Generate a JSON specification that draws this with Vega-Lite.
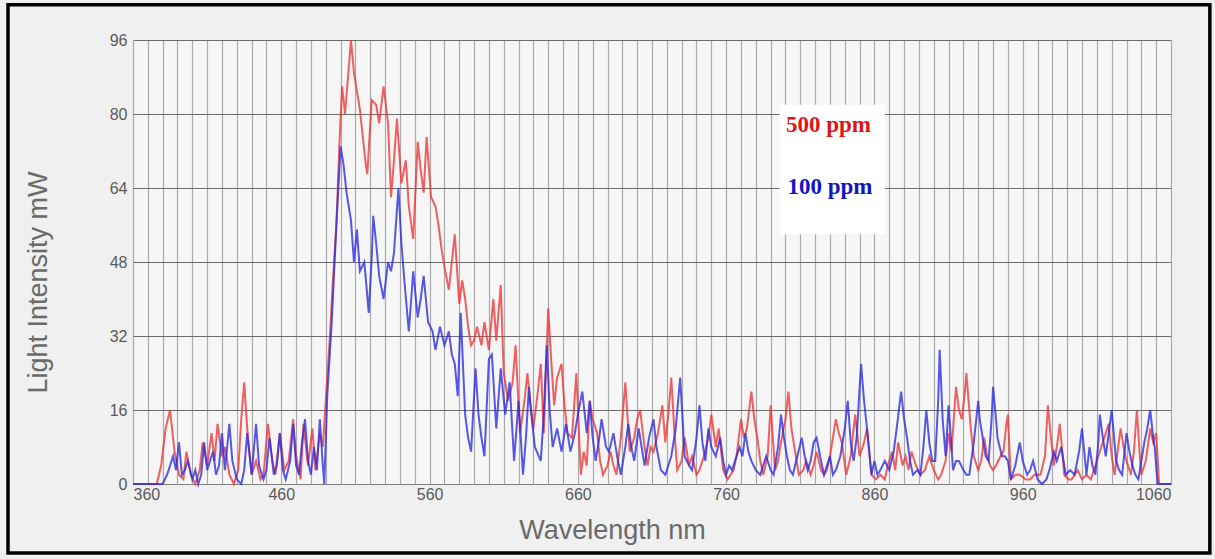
{
  "$schema": "https://vega.github.io/schema/vega-lite/v6.json",
  "width": 1038,
  "height": 444,
  "autosize": {"type": "none"},
  "padding": {"left": 133, "top": 40, "right": 44, "bottom": 75},
  "background": "#f0f0f0",
  "config": {
    "view": {"fill": "#f6f6f6", "stroke": null},
    "axis": {"labelFont": "Liberation Sans", "titleFont": "Liberation Sans", "labelColor": "#5a5a5a", "titleColor": "#6a6a6a", "labelFontSize": 16, "titleFontSize": 27, "titleFontWeight": "normal", "ticks": false}
  },
  "datasets": {
    "red": [
      {"wl":360,"val":0},{"wl":376,"val":0},{"wl":379,"val":4},{"wl":382,"val":12},{"wl":385,"val":16},{"wl":388,"val":7},{"wl":391,"val":2},{"wl":394,"val":1},{"wl":396,"val":7},{"wl":399,"val":2},{"wl":402,"val":0},{"wl":405,"val":3},{"wl":407,"val":9},{"wl":410,"val":4},{"wl":413,"val":11},{"wl":415,"val":5},{"wl":417,"val":13},{"wl":420,"val":6},{"wl":422,"val":8},{"wl":425,"val":2},{"wl":428,"val":0},{"wl":431,"val":3},{"wl":433,"val":14},{"wl":435,"val":22},{"wl":437,"val":12},{"wl":440,"val":2},{"wl":443,"val":5},{"wl":446,"val":1},{"wl":448,"val":2},{"wl":451,"val":13},{"wl":454,"val":5},{"wl":456,"val":2},{"wl":459,"val":11},{"wl":462,"val":3},{"wl":465,"val":5},{"wl":468,"val":14},{"wl":470,"val":6},{"wl":473,"val":1},{"wl":475,"val":13},{"wl":478,"val":4},{"wl":481,"val":12},{"wl":483,"val":3},{"wl":486,"val":11},{"wl":488,"val":8},
      {"wl":490,"val":18},{"wl":493,"val":33},{"wl":495,"val":45},{"wl":497,"val":55},{"wl":499,"val":72},{"wl":501,"val":86},{"wl":503,"val":80},{"wl":505,"val":88},{"wl":507,"val":96},{"wl":509,"val":89},{"wl":511,"val":85},{"wl":513,"val":81},{"wl":515,"val":75},{"wl":517,"val":69},{"wl":518,"val":67},{"wl":521,"val":83},{"wl":524,"val":82},{"wl":526,"val":78},{"wl":529,"val":86},{"wl":532,"val":78},{"wl":534,"val":62},{"wl":536,"val":70},{"wl":538,"val":79},{"wl":541,"val":65},{"wl":544,"val":70},{"wl":546,"val":60},{"wl":549,"val":53},{"wl":552,"val":74},{"wl":554,"val":68},{"wl":556,"val":63},{"wl":558,"val":75},{"wl":561,"val":62},{"wl":564,"val":60},{"wl":566,"val":56},{"wl":568,"val":51},{"wl":570,"val":47},{"wl":573,"val":42},{"wl":575,"val":48},{"wl":577,"val":54},{"wl":580,"val":39},{"wl":582,"val":44},{"wl":584,"val":40},{"wl":586,"val":34},{"wl":588,"val":30},{"wl":590,"val":31},{"wl":592,"val":34},{"wl":595,"val":30},{"wl":597,"val":35},{"wl":600,"val":29},{"wl":603,"val":40},{"wl":605,"val":31},{"wl":608,"val":43},{"wl":610,"val":24},{"wl":613,"val":18},{"wl":616,"val":22},{"wl":618,"val":30},{"wl":621,"val":11},{"wl":624,"val":18},{"wl":626,"val":24},{"wl":628,"val":17},{"wl":630,"val":12},{"wl":633,"val":20},{"wl":635,"val":26},{"wl":637,"val":11},{"wl":640,"val":38},{"wl":642,"val":27},{"wl":644,"val":17},{"wl":646,"val":23},{"wl":649,"val":26},{"wl":651,"val":17},{"wl":653,"val":11},{"wl":656,"val":10},{"wl":659,"val":24},{"wl":662,"val":2},{"wl":664,"val":7},{"wl":666,"val":4},{"wl":668,"val":18},{"wl":670,"val":14},{"wl":673,"val":11},{"wl":675,"val":5},{"wl":677,"val":2},{"wl":680,"val":4},{"wl":682,"val":7},{"wl":684,"val":4},{"wl":686,"val":2},{"wl":689,"val":10},{"wl":692,"val":22},{"wl":695,"val":7},{"wl":698,"val":10},{"wl":700,"val":14},{"wl":702,"val":16},{"wl":705,"val":8},{"wl":707,"val":4},{"wl":709,"val":8},{"wl":711,"val":7},{"wl":714,"val":11},{"wl":717,"val":17},{"wl":719,"val":9},{"wl":721,"val":15},{"wl":723,"val":23},{"wl":725,"val":12},{"wl":727,"val":3},{"wl":730,"val":5},{"wl":732,"val":10},{"wl":735,"val":4},{"wl":737,"val":6},{"wl":740,"val":2},{"wl":742,"val":3},{"wl":745,"val":6},{"wl":748,"val":10},{"wl":750,"val":15},{"wl":753,"val":8},{"wl":755,"val":12},{"wl":758,"val":3},{"wl":761,"val":1},{"wl":763,"val":2},{"wl":765,"val":3},{"wl":767,"val":6},{"wl":770,"val":14},{"wl":772,"val":10},{"wl":774,"val":12},{"wl":777,"val":20},{"wl":779,"val":14},{"wl":781,"val":10},{"wl":783,"val":5},{"wl":785,"val":2},{"wl":788,"val":6},{"wl":790,"val":17},{"wl":793,"val":3},{"wl":795,"val":5},{"wl":797,"val":9},{"wl":800,"val":14},{"wl":802,"val":20},{"wl":804,"val":12},{"wl":807,"val":6},{"wl":809,"val":2},{"wl":812,"val":3},{"wl":814,"val":5},{"wl":817,"val":2},{"wl":819,"val":4},{"wl":821,"val":7},{"wl":824,"val":3},{"wl":826,"val":2},{"wl":828,"val":3},{"wl":830,"val":6},{"wl":832,"val":10},{"wl":834,"val":14},{"wl":836,"val":11},{"wl":838,"val":9},{"wl":841,"val":2},{"wl":844,"val":6},{"wl":847,"val":15},{"wl":850,"val":6},{"wl":853,"val":9},{"wl":855,"val":12},{"wl":858,"val":2},{"wl":861,"val":1},{"wl":864,"val":2},{"wl":867,"val":1},{"wl":869,"val":4},{"wl":872,"val":7},{"wl":874,"val":3},{"wl":876,"val":9},{"wl":879,"val":4},{"wl":881,"val":6},{"wl":883,"val":3},{"wl":885,"val":7},{"wl":888,"val":4},{"wl":891,"val":2},{"wl":894,"val":3},{"wl":897,"val":6},{"wl":900,"val":3},{"wl":903,"val":1},{"wl":905,"val":2},{"wl":908,"val":5},{"wl":910,"val":11},{"wl":912,"val":7},{"wl":915,"val":21},{"wl":917,"val":16},{"wl":919,"val":14},{"wl":921,"val":20},{"wl":922,"val":24},{"wl":925,"val":12},{"wl":927,"val":6},{"wl":930,"val":3},{"wl":932,"val":5},{"wl":934,"val":10},{"wl":936,"val":6},{"wl":938,"val":4},{"wl":940,"val":3},{"wl":942,"val":4},{"wl":945,"val":6},{"wl":947,"val":7},{"wl":949,"val":13},{"wl":950,"val":15},{"wl":952,"val":1},{"wl":955,"val":2},{"wl":958,"val":2},{"wl":962,"val":1},{"wl":965,"val":1},{"wl":968,"val":2},{"wl":972,"val":2},{"wl":975,"val":6},{"wl":977,"val":17},{"wl":979,"val":10},{"wl":981,"val":4},{"wl":983,"val":8},{"wl":985,"val":13},{"wl":987,"val":6},{"wl":988,"val":2},{"wl":991,"val":1},{"wl":993,"val":1},{"wl":995,"val":2},{"wl":997,"val":3},{"wl":1000,"val":1},{"wl":1003,"val":2},{"wl":1006,"val":1},{"wl":1009,"val":4},{"wl":1011,"val":6},{"wl":1013,"val":8},{"wl":1015,"val":10},{"wl":1018,"val":13},{"wl":1020,"val":6},{"wl":1022,"val":2},{"wl":1024,"val":7},{"wl":1026,"val":12},{"wl":1028,"val":8},{"wl":1030,"val":5},{"wl":1033,"val":2},{"wl":1035,"val":7},{"wl":1037,"val":16},{"wl":1039,"val":6},{"wl":1040,"val":2},{"wl":1043,"val":5},{"wl":1046,"val":12},{"wl":1048,"val":9},{"wl":1050,"val":11},{"wl":1052,"val":0},{"wl":1060,"val":0}
    ],
    "blue": [
      {"wl":360,"val":0},{"wl":380,"val":0},{"wl":383,"val":2},{"wl":385,"val":4},{"wl":387,"val":6},{"wl":389,"val":3},{"wl":391,"val":9},{"wl":393,"val":2},{"wl":395,"val":3},{"wl":397,"val":5},{"wl":400,"val":1},{"wl":402,"val":3},{"wl":404,"val":0},{"wl":406,"val":2},{"wl":408,"val":9},{"wl":410,"val":3},{"wl":412,"val":5},{"wl":414,"val":7},{"wl":416,"val":2},{"wl":418,"val":4},{"wl":420,"val":11},{"wl":422,"val":3},{"wl":425,"val":13},{"wl":427,"val":5},{"wl":430,"val":1},{"wl":433,"val":0},{"wl":435,"val":3},{"wl":437,"val":11},{"wl":440,"val":2},{"wl":443,"val":13},{"wl":445,"val":4},{"wl":448,"val":1},{"wl":450,"val":3},{"wl":452,"val":10},{"wl":455,"val":2},{"wl":457,"val":4},{"wl":459,"val":11},{"wl":461,"val":3},{"wl":463,"val":1},{"wl":466,"val":5},{"wl":468,"val":13},{"wl":470,"val":4},{"wl":472,"val":2},{"wl":474,"val":9},{"wl":476,"val":14},{"wl":478,"val":5},{"wl":480,"val":2},{"wl":482,"val":8},{"wl":484,"val":3},{"wl":486,"val":14},{"wl":488,"val":4},{"wl":489,"val":0},
      {"wl":491,"val":19},{"wl":494,"val":35},{"wl":497,"val":55},{"wl":500,"val":73},{"wl":502,"val":69},{"wl":504,"val":63},{"wl":507,"val":57},{"wl":509,"val":48},{"wl":511,"val":55},{"wl":513,"val":46},{"wl":516,"val":48},{"wl":519,"val":37},{"wl":521,"val":49},{"wl":522,"val":58},{"wl":524,"val":52},{"wl":526,"val":45},{"wl":529,"val":40},{"wl":532,"val":48},{"wl":534,"val":46},{"wl":536,"val":50},{"wl":539,"val":64},{"wl":541,"val":52},{"wl":543,"val":44},{"wl":546,"val":33},{"wl":549,"val":46},{"wl":552,"val":36},{"wl":554,"val":40},{"wl":556,"val":45},{"wl":559,"val":35},{"wl":562,"val":33},{"wl":564,"val":29},{"wl":567,"val":34},{"wl":570,"val":30},{"wl":573,"val":33},{"wl":575,"val":28},{"wl":577,"val":26},{"wl":579,"val":19},{"wl":581,"val":37},{"wl":584,"val":15},{"wl":586,"val":10},{"wl":588,"val":7},{"wl":591,"val":25},{"wl":593,"val":15},{"wl":595,"val":10},{"wl":597,"val":6},{"wl":600,"val":27},{"wl":602,"val":28},{"wl":605,"val":12},{"wl":608,"val":25},{"wl":611,"val":15},{"wl":614,"val":22},{"wl":617,"val":5},{"wl":620,"val":18},{"wl":623,"val":2},{"wl":625,"val":10},{"wl":627,"val":21},{"wl":629,"val":14},{"wl":631,"val":8},{"wl":635,"val":5},{"wl":637,"val":15},{"wl":639,"val":30},{"wl":641,"val":16},{"wl":643,"val":8},{"wl":646,"val":12},{"wl":649,"val":7},{"wl":652,"val":13},{"wl":655,"val":7},{"wl":658,"val":11},{"wl":660,"val":15},{"wl":663,"val":20},{"wl":666,"val":11},{"wl":668,"val":18},{"wl":670,"val":10},{"wl":672,"val":5},{"wl":674,"val":9},{"wl":676,"val":14},{"wl":679,"val":8},{"wl":681,"val":7},{"wl":684,"val":11},{"wl":687,"val":5},{"wl":689,"val":2},{"wl":692,"val":8},{"wl":694,"val":13},{"wl":696,"val":8},{"wl":698,"val":5},{"wl":701,"val":12},{"wl":703,"val":8},{"wl":705,"val":4},{"wl":708,"val":10},{"wl":711,"val":14},{"wl":713,"val":8},{"wl":716,"val":3},{"wl":719,"val":2},{"wl":721,"val":4},{"wl":723,"val":6},{"wl":726,"val":12},{"wl":729,"val":23},{"wl":731,"val":12},{"wl":732,"val":6},{"wl":735,"val":4},{"wl":737,"val":3},{"wl":740,"val":10},{"wl":742,"val":17},{"wl":744,"val":9},{"wl":746,"val":5},{"wl":748,"val":12},{"wl":750,"val":8},{"wl":753,"val":6},{"wl":756,"val":10},{"wl":758,"val":5},{"wl":760,"val":2},{"wl":762,"val":4},{"wl":764,"val":3},{"wl":767,"val":6},{"wl":769,"val":8},{"wl":771,"val":6},{"wl":773,"val":11},{"wl":775,"val":7},{"wl":777,"val":5},{"wl":780,"val":3},{"wl":783,"val":2},{"wl":785,"val":4},{"wl":787,"val":6},{"wl":790,"val":3},{"wl":792,"val":2},{"wl":795,"val":8},{"wl":797,"val":15},{"wl":799,"val":10},{"wl":801,"val":6},{"wl":803,"val":3},{"wl":805,"val":2},{"wl":808,"val":6},{"wl":811,"val":10},{"wl":813,"val":6},{"wl":815,"val":3},{"wl":817,"val":5},{"wl":819,"val":9},{"wl":821,"val":10},{"wl":824,"val":5},{"wl":826,"val":2},{"wl":828,"val":4},{"wl":830,"val":6},{"wl":832,"val":2},{"wl":834,"val":3},{"wl":837,"val":6},{"wl":840,"val":12},{"wl":842,"val":18},{"wl":844,"val":9},{"wl":846,"val":5},{"wl":848,"val":10},{"wl":851,"val":26},{"wl":853,"val":18},{"wl":855,"val":12},{"wl":858,"val":2},{"wl":860,"val":5},{"wl":862,"val":2},{"wl":864,"val":3},{"wl":867,"val":5},{"wl":870,"val":3},{"wl":873,"val":7},{"wl":875,"val":12},{"wl":878,"val":20},{"wl":880,"val":14},{"wl":882,"val":10},{"wl":884,"val":5},{"wl":886,"val":2},{"wl":889,"val":3},{"wl":891,"val":2},{"wl":893,"val":8},{"wl":895,"val":16},{"wl":897,"val":9},{"wl":899,"val":5},{"wl":901,"val":5},{"wl":903,"val":18},{"wl":904,"val":29},{"wl":906,"val":14},{"wl":908,"val":6},{"wl":910,"val":17},{"wl":912,"val":8},{"wl":913,"val":3},{"wl":915,"val":5},{"wl":917,"val":5},{"wl":920,"val":3},{"wl":922,"val":2},{"wl":924,"val":2},{"wl":927,"val":9},{"wl":930,"val":18},{"wl":931,"val":14},{"wl":933,"val":10},{"wl":935,"val":6},{"wl":937,"val":5},{"wl":939,"val":14},{"wl":940,"val":21},{"wl":942,"val":14},{"wl":943,"val":10},{"wl":946,"val":6},{"wl":948,"val":6},{"wl":950,"val":5},{"wl":952,"val":1},{"wl":955,"val":4},{"wl":958,"val":9},{"wl":960,"val":5},{"wl":963,"val":2},{"wl":965,"val":3},{"wl":967,"val":5},{"wl":970,"val":1},{"wl":973,"val":0},{"wl":976,"val":1},{"wl":978,"val":3},{"wl":981,"val":7},{"wl":983,"val":5},{"wl":986,"val":8},{"wl":988,"val":4},{"wl":989,"val":2},{"wl":992,"val":3},{"wl":995,"val":2},{"wl":998,"val":7},{"wl":1000,"val":12},{"wl":1003,"val":2},{"wl":1005,"val":8},{"wl":1007,"val":4},{"wl":1009,"val":2},{"wl":1011,"val":9},{"wl":1012,"val":15},{"wl":1014,"val":10},{"wl":1016,"val":6},{"wl":1018,"val":11},{"wl":1020,"val":16},{"wl":1023,"val":5},{"wl":1025,"val":3},{"wl":1027,"val":2},{"wl":1030,"val":11},{"wl":1032,"val":7},{"wl":1034,"val":4},{"wl":1036,"val":2},{"wl":1038,"val":1},{"wl":1040,"val":5},{"wl":1042,"val":9},{"wl":1044,"val":12},{"wl":1046,"val":16},{"wl":1048,"val":10},{"wl":1049,"val":8},{"wl":1051,"val":0},{"wl":1060,"val":0}
    ]
  },
  "layer": [
    {
      "data": {"name": "red"},
      "mark": {"type": "line", "color": "#ee3434", "strokeWidth": 2, "opacity": 0.78},
      "encoding": {
        "x": {"field": "wl", "type": "quantitative",
          "scale": {"domain": [360, 1060], "nice": false, "zero": false},
          "axis": {
            "values": [360,370,380,390,400,410,420,430,440,450,460,470,480,490,500,510,520,530,540,550,560,570,580,590,600,610,620,630,640,650,660,670,680,690,700,710,720,730,740,750,760,770,780,790,800,810,820,830,840,850,860,870,880,890,900,910,920,930,940,950,960,970,980,990,1000,1010,1020,1030,1040,1050,1060],
            "tickCount": 200,
            "labelExpr": "(datum.value - 360) % 100 == 0 ? datum.label : ''",
            "format": "d", "labelOverlap": false, "labelPadding": 2,
            "grid": true, "gridColor": "#aaaaaa", "gridWidth": 1.2,
            "domain": true, "domainColor": "#808080",
            "title": "Wavelength nm", "titleX": 479, "titleY": 46, "titleAlign": "center", "titleBaseline": "middle"
          }
        },
        "y": {"field": "val", "type": "quantitative",
          "scale": {"domain": [0, 96], "nice": false},
          "axis": {
            "values": [0,16,32,48,64,80,96], "tickCount": 20, "format": "d", "labelPadding": 6,
            "grid": true, "gridColor": "#6e6e6e", "gridWidth": 1.2, "domain": false,
            "title": "Light Intensity mW", "titleX": -95, "titleY": 242, "titleAngle": 270, "titleAlign": "center", "titleBaseline": "middle"
          }
        }
      }
    },
    {
      "data": {"name": "blue"},
      "mark": {"type": "line", "color": "#2a2ade", "strokeWidth": 2, "opacity": 0.78},
      "encoding": {
        "x": {"field": "wl", "type": "quantitative"},
        "y": {"field": "val", "type": "quantitative"}
      }
    },
    {
      "data": {"values": [{}]},
      "mark": {"type": "rect", "fill": "#ffffff", "stroke": null},
      "encoding": {
        "x": {"datum": 796, "type": "quantitative"},
        "x2": {"datum": 867},
        "y": {"datum": 82, "type": "quantitative"},
        "y2": {"datum": 54}
      }
    },
    {
      "data": {"values": [{}]},
      "mark": {"type": "text", "text": "500 ppm", "font": "Liberation Serif", "fontWeight": "bold", "fontSize": 23, "color": "#e01414", "align": "center", "baseline": "middle"},
      "encoding": {
        "x": {"datum": 829, "type": "quantitative"},
        "y": {"datum": 77.6, "type": "quantitative"}
      }
    },
    {
      "data": {"values": [{}]},
      "mark": {"type": "text", "text": "100 ppm", "font": "Liberation Serif", "fontWeight": "bold", "fontSize": 23, "color": "#1414c0", "align": "center", "baseline": "middle"},
      "encoding": {
        "x": {"datum": 830, "type": "quantitative"},
        "y": {"datum": 64.2, "type": "quantitative"}
      }
    },
    {
      "data": {"values": [{}]},
      "mark": {"type": "rect", "fill": null, "stroke": "#000000", "strokeWidth": 3.5, "clip": false},
      "encoding": {
        "x": {"datum": 275.7, "type": "quantitative"},
        "x2": {"datum": 1086.2},
        "y": {"datum": 103.6, "type": "quantitative"},
        "y2": {"datum": -14.9}
      }
    }
  ]
}
